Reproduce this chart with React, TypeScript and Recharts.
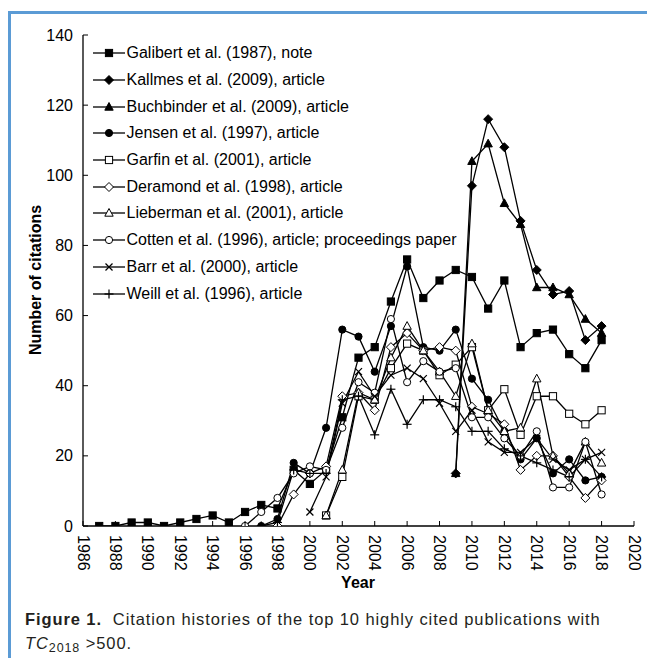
import React from 'react';
import { LineChart, Line, XAxis, YAxis } from 'recharts';

// citations per year, 1987..2018 (null = not yet published)
const years = [
  1987, 1988, 1989, 1990, 1991, 1992, 1993, 1994, 1995, 1996, 1997, 1998, 1999, 2000, 2001, 2002,
  2003, 2004, 2005, 2006, 2007, 2008, 2009, 2010, 2011, 2012, 2013, 2014, 2015, 2016, 2017, 2018,
];
const N = null;
const galibert = [0, 0, 1, 1, 0, 1, 2, 3, 1, 4, 6, 5, 16, 12, 16, 31, 48, 51, 64, 76, 65, 70, 73, 71, 62, 70, 51, 55, 56, 49, 45, 53];
const kallmes = [N, N, N, N, N, N, N, N, N, N, N, N, N, N, N, N, N, N, N, N, N, N, 15, 97, 116, 108, 87, 73, 66, 67, 53, 57];
const buchbinder = [N, N, N, N, N, N, N, N, N, N, N, N, N, N, N, N, N, N, N, N, N, N, 15, 104, 109, 92, 86, 68, 68, 66, 59, 55];
const jensen = [N, N, N, N, N, N, N, N, N, N, 0, 2, 18, 15, 28, 56, 54, 44, 57, 74, 51, 50, 56, 42, 36, 27, 19, 25, 15, 19, 13, 14];
const garfin = [N, N, N, N, N, N, N, N, N, N, N, N, N, N, 3, 14, 37, 36, 45, 52, 50, 43, 46, 51, 33, 39, 26, 37, 37, 32, 29, 33];
const deramond = [N, N, N, N, N, N, N, N, N, N, N, 0, 9, 15, 17, 37, 38, 33, 51, 55, 50, 51, 50, 34, 32, 29, 16, 20, 20, 14, 8, 13];
const lieberman = [N, N, N, N, N, N, N, N, N, N, N, N, N, N, 3, 16, 38, 36, 48, 57, 50, 44, 37, 52, 33, 27, 28, 42, 20, 15, 24, 18];
const cotten = [N, N, N, N, N, N, N, N, N, 0, 4, 8, 15, 17, 16, 28, 41, 38, 59, 41, 47, 44, 45, 31, 31, 25, 20, 27, 11, 11, 24, 9];
const barr = [N, N, N, N, N, N, N, N, N, N, N, N, N, 4, 14, 35, 44, 37, 43, 45, 42, 35, 27, 33, 24, 21, 21, 25, 19, 16, 19, 21];
const weill = [N, N, N, N, N, N, N, N, N, N, 0, 1, 16, 15, 15, 36, 37, 26, 39, 29, 36, 36, 34, 27, 27, 22, 20, 18, 16, 14, 19, 14];

const xTicks = [1986, 1988, 1990, 1992, 1994, 1996, 1998, 2000, 2002, 2004, 2006, 2008, 2010, 2012, 2014, 2016, 2018, 2020];
const yTicks = [0, 20, 40, 60, 80, 100, 120, 140];

type Shape = 'square' | 'diamond' | 'triangle' | 'circle' | 'osquare' | 'odiamond' | 'otriangle' | 'ocircle' | 'x' | 'plus';

const series: { key: string; name: string; shape: Shape; values: (number | null)[] }[] = [
  { key: 'galibert', name: 'Galibert et al. (1987), note', shape: 'square', values: galibert },
  { key: 'kallmes', name: 'Kallmes et al. (2009), article', shape: 'diamond', values: kallmes },
  { key: 'buchbinder', name: 'Buchbinder et al. (2009), article', shape: 'triangle', values: buchbinder },
  { key: 'jensen', name: 'Jensen et al. (1997), article', shape: 'circle', values: jensen },
  { key: 'garfin', name: 'Garfin et al. (2001), article', shape: 'osquare', values: garfin },
  { key: 'deramond', name: 'Deramond et al. (1998), article', shape: 'odiamond', values: deramond },
  { key: 'lieberman', name: 'Lieberman et al. (2001), article', shape: 'otriangle', values: lieberman },
  { key: 'cotten', name: 'Cotten et al. (1996), article; proceedings paper', shape: 'ocircle', values: cotten },
  { key: 'barr', name: 'Barr et al. (2000), article', shape: 'x', values: barr },
  { key: 'weill', name: 'Weill et al. (1996), article', shape: 'plus', values: weill },
];

const data = years.map((year, i) => {
  const row: Record<string, number | null> = { year };
  series.forEach((s) => { row[s.key] = s.values[i]; });
  return row;
});

const FONT = '"Liberation Sans", Arial, sans-serif';

function Marker({ shape, cx, cy }: { shape: Shape; cx: number; cy: number }) {
  const open = shape.startsWith('o');
  const fill = open ? '#fff' : '#000';
  const sw = 1;
  switch (shape) {
    case 'square':
    case 'osquare':
      return <rect x={cx - 3.6} y={cy - 3.6} width={7.2} height={7.2} fill={fill} stroke="#000" strokeWidth={sw} />;
    case 'diamond':
    case 'odiamond':
      return <polygon points={`${cx},${cy - 4.5} ${cx + 4.5},${cy} ${cx},${cy + 4.5} ${cx - 4.5},${cy}`} fill={fill} stroke="#000" strokeWidth={sw} />;
    case 'triangle':
    case 'otriangle':
      return <polygon points={`${cx},${cy - 4.5} ${cx + 4.2},${cy + 3.2} ${cx - 4.2},${cy + 3.2}`} fill={fill} stroke="#000" strokeWidth={sw} />;
    case 'circle':
    case 'ocircle':
      return <circle cx={cx} cy={cy} r={3.6} fill={fill} stroke="#000" strokeWidth={sw} />;
    case 'x':
      return (
        <g stroke="#000" strokeWidth={1.2}>
          <line x1={cx - 3.5} y1={cy - 3.5} x2={cx + 3.5} y2={cy + 3.5} />
          <line x1={cx - 3.5} y1={cy + 3.5} x2={cx + 3.5} y2={cy - 3.5} />
        </g>
      );
    default:
      return (
        <g stroke="#000" strokeWidth={1.2}>
          <line x1={cx - 4.5} y1={cy} x2={cx + 4.5} y2={cy} />
          <line x1={cx} y1={cy - 4.5} x2={cx} y2={cy + 4.5} />
        </g>
      );
  }
}

const makeDot = (shape: Shape) => (p: any) => {
  if (p.value == null || p.cy == null || isNaN(p.cy)) return <g key={p.key} />;
  return <g key={p.key}><Marker shape={shape} cx={p.cx} cy={p.cy} /></g>;
};

const XTick = (p: any) => {
  const { x, y, payload } = p;
  return (
    <g>
      <line x1={x} y1={y} x2={x} y2={y - 5} stroke="#000" />
      <text x={x} y={y + 9} transform={`rotate(90 ${x} ${y + 9})`} textAnchor="start" dominantBaseline="central" fontSize={16} fill="#000" fontFamily={FONT}>
        {payload.value}
      </text>
    </g>
  );
};

const YTick = (p: any) => {
  const { x, y, payload } = p;
  return (
    <g>
      <line x1={x} y1={y} x2={x + 5} y2={y} stroke="#000" />
      <text x={x - 10} y={y} textAnchor="end" dominantBaseline="central" fontSize={16} fill="#000" fontFamily={FONT}>
        {payload.value}
      </text>
    </g>
  );
};

const LegendBox = () => (
  <div style={{ position: 'absolute', left: 93, top: 40, fontFamily: FONT, fontSize: 16, color: '#000' }}>
    {series.map((s) => (
      <div key={s.key} style={{ height: 26.7, display: 'flex', alignItems: 'center', whiteSpace: 'nowrap' }}>
        <svg width={32} height={14} style={{ marginRight: 1.5 }}>
          <line x1={0} y1={7} x2={32} y2={7} stroke="#000" strokeWidth={1.3} />
          <Marker shape={s.shape} cx={16} cy={7} />
        </svg>
        <span>{s.name}</span>
      </div>
    ))}
  </div>
);

export default function App() {
  return (
    <div style={{ position: 'absolute', left: 0, top: 0, width: 647, height: 658, background: '#fff', fontFamily: FONT, overflow: 'hidden' }}>
      {/* blue frame */}
      <div style={{ position: 'absolute', left: 8, top: 11, width: 639, height: 2.5, background: '#5b9bd5' }} />
      <div style={{ position: 'absolute', left: 8, top: 11, width: 2.5, height: 647, background: '#5b9bd5' }} />

      <div style={{ position: 'absolute', left: 0, top: 0 }}>
        <LineChart width={647} height={600} data={data} margin={{ top: 35, right: 13, left: 8, bottom: 0 }}>
          <XAxis
            dataKey="year"
            type="number"
            domain={[1986, 2020]}
            ticks={xTicks}
            interval={0}
            height={74}
            tickSize={0}
            tickMargin={0}
            tickLine={false}
            tick={<XTick />}
            axisLine={{ stroke: '#000', strokeWidth: 1.3 }}
            allowDataOverflow
          />
          <XAxis xAxisId="top" orientation="top" dataKey="year" type="number" domain={[1986, 2020]} height={0} tick={false} tickLine={false} axisLine={{ stroke: '#000', strokeWidth: 1.3 }} />
          <YAxis
            type="number"
            domain={[0, 140]}
            ticks={yTicks}
            interval={0}
            width={75}
            tickSize={0}
            tickMargin={0}
            tickLine={false}
            tick={<YTick />}
            axisLine={{ stroke: '#000', strokeWidth: 1.3 }}
            allowDataOverflow
          />
          <YAxis yAxisId="right" orientation="right" domain={[0, 140]} width={0} tick={false} tickLine={false} axisLine={{ stroke: '#000', strokeWidth: 1.3 }} />
          {series.map((s) => (
            <Line
              key={s.key}
              dataKey={s.key}
              name={s.name}
              stroke="#000"
              strokeWidth={1.3}
              dot={makeDot(s.shape)}
              activeDot={false}
              isAnimationActive={false}
              connectNulls={false}
              type="linear"
            />
          ))}
        </LineChart>
      </div>

      <LegendBox />

      {/* axis titles */}
      <div style={{ position: 'absolute', left: 36, top: 280, transform: 'translate(-50%, -50%) rotate(-90deg)', fontSize: 16, fontWeight: 700, whiteSpace: 'nowrap', color: '#000' }}>
        Number of citations
      </div>
      <div style={{ position: 'absolute', left: 358, top: 583, transform: 'translate(-50%, -50%)', fontSize: 16, fontWeight: 700, color: '#000' }}>
        Year
      </div>

      {/* caption */}
      <div style={{ position: 'absolute', left: 25, top: 607, fontSize: 16.5, letterSpacing: 0.9, lineHeight: '24px', color: '#231f20', whiteSpace: 'nowrap' }}>
        <div>
          <b>Figure 1.</b>&nbsp; Citation histories of the top 10 highly cited publications with
        </div>
        <div>
          <i>TC</i><sub style={{ fontSize: 12.5, verticalAlign: -3 }}>2018</sub> &gt;500.
        </div>
      </div>
    </div>
  );
}
